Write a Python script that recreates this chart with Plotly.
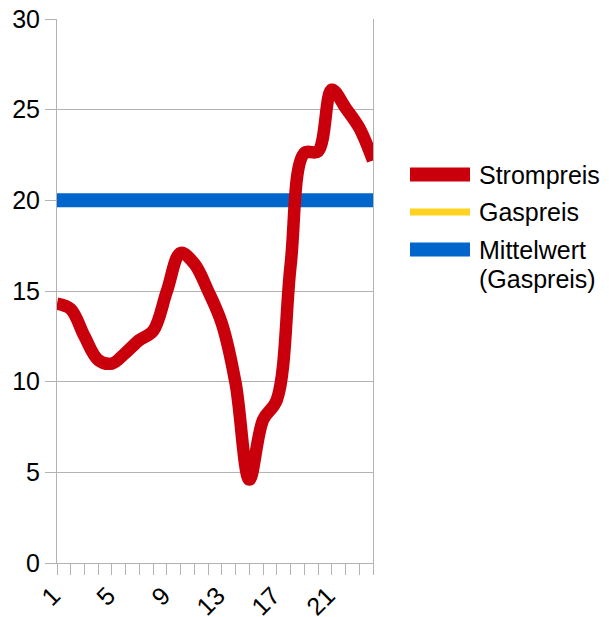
import plotly.graph_objects as go

# ---- data ----
hours = list(range(1, 25))
tick_labels = ["1", "", "", "", "5", "", "", "", "9", "", "", "", "13", "", "", "",
               "17", "", "", "", "21", "", "", ""]
strompreis = [14.3, 14.0, 12.5, 11.2, 11.0, 11.6, 12.3, 12.8, 15.0, 17.1, 16.5, 15.0,
              13.2, 9.9, 4.6, 7.9, 9.0, 16.4, 22.6, 22.7, 26.1, 25.1, 24.0, 22.2]
gaspreis = [None] * 24
mittelwert = [20, 20, 20, 20, 20, 20, 20, 20, 20, 20, 20, 20,
              20, 20, 20, 20, 20, 20, 20, 20, 20, 20, 20, 20]
series_names = ["Strompreis", "Gaspreis", "Mittelwert (Gaspreis)"]

RED = "#c9000b"
YELLOW = "#ffd320"
BLUE = "#0066cc"
GRID = "#b3b3b3"
FONT = "Liberation Sans, Arial, sans-serif"

fig = go.Figure()
fig.add_trace(go.Scatter(x=hours, y=mittelwert, mode="lines", name=series_names[2],
                         line=dict(color=BLUE, width=14), showlegend=False))
fig.add_trace(go.Scatter(x=hours, y=gaspreis, mode="lines", name=series_names[1],
                         line=dict(color=YELLOW, width=6), showlegend=False))
fig.add_trace(go.Scatter(x=hours, y=strompreis, mode="lines", name=series_names[0],
                         line=dict(color=RED, width=12.5, shape="spline", smoothing=1),
                         showlegend=False))

# page has an 8px body margin: figure origin sits at (8, 8) in the window
OFF = 8
W, H = 601, 609
L, R, T, B = 57 - OFF, 373 - OFF, 19 - OFF, 563 - OFF


def px(xp):
    return (xp - OFF - L) / (R - L)


def py(yp):
    return (B - (yp - OFF)) / (B - T)


# custom legend (swatches + labels)
legend_rows = [
    (series_names[0], RED, 14, 174.5),
    (series_names[1], YELLOW, 7, 212),
    (series_names[2], BLUE, 14, 249.5),
]
shapes = []
annotations = []
for name, color, lw, yc in legend_rows:
    shapes.append(dict(type="line", xref="paper", yref="paper",
                       x0=px(410), x1=px(470), y0=py(yc), y1=py(yc),
                       line=dict(color=color, width=lw)))
    parts = name.split(" ")
    for k, part in enumerate(parts):
        annotations.append(dict(xref="paper", yref="paper", x=px(477), y=py(yc + k * 29),
                                xanchor="left", yanchor="middle", showarrow=False,
                                text=part, font=dict(family=FONT, size=25, color="#000000")))

fig.update_layout(
    width=W, height=H,
    margin=dict(l=L, r=W - R, t=T, b=H - B, pad=0, autoexpand=False),
    paper_bgcolor="white", plot_bgcolor="white",
    font=dict(family=FONT, size=25, color="#000000"),
    shapes=shapes, annotations=annotations,
    xaxis=dict(range=[1, 24], tickmode="array", tickvals=hours, ticktext=tick_labels,
               tickangle=-45, ticks="outside", ticklen=11, tickcolor=GRID, tickwidth=1,
               showgrid=False, showline=True, linecolor=GRID, linewidth=1, zeroline=False,
               automargin=False, ticklabeloverflow="allow", ticklabelstandoff=-4,
               ticklabelshift=-4,
               tickfont=dict(family=FONT, size=25, color="#000000")),
    yaxis=dict(range=[0, 30], dtick=5, tick0=0, ticks="outside", ticklen=11, tickcolor=GRID,
               showgrid=True, gridcolor=GRID, gridwidth=1, showline=True, mirror=True,
               linecolor=GRID, linewidth=1, zeroline=False, automargin=False,
               ticklabeloverflow="allow",
               tickfont=dict(family=FONT, size=25, color="#000000")),
)

fig.write_html("out.html")
